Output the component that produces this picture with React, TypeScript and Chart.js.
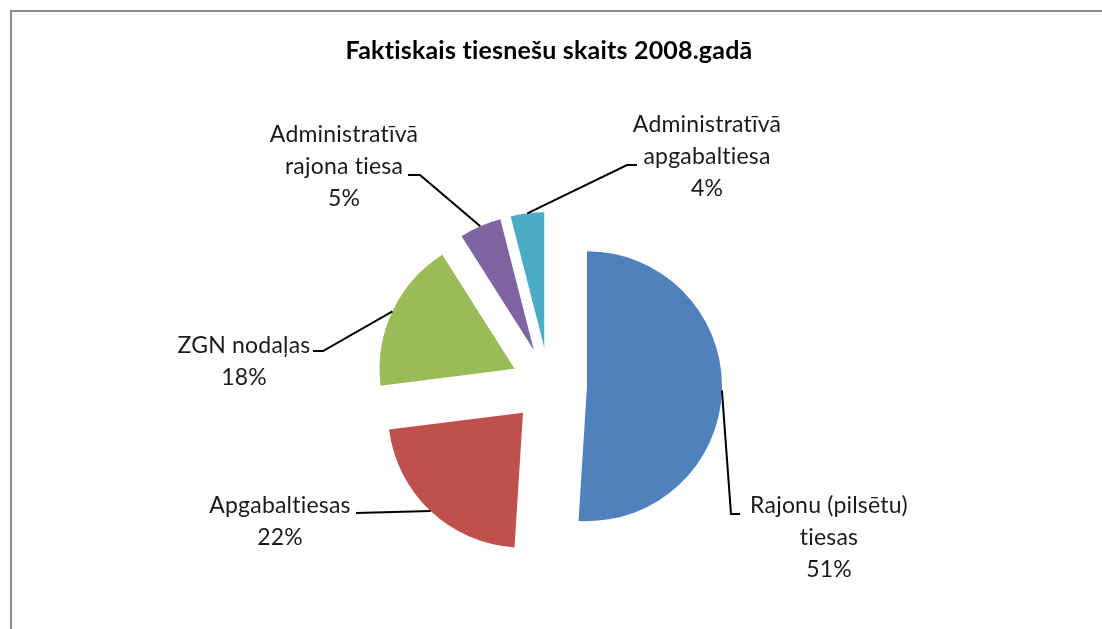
import React, { useEffect, useRef } from "react";
import { Chart, registerables } from "chart.js";

Chart.register(...registerables);

const chartTitle = "Faktiskais tiesnešu skaits 2008.gadā";
const categories: string[][] = [
  ["Rajonu (pilsētu)", "tiesas"],
  ["Apgabaltiesas"],
  ["ZGN nodaļas"],
  ["Administratīvā", "rajona tiesa"],
  ["Administratīvā", "apgabaltiesa"],
];
const values = [51, 22, 18, 5, 4];
const colors = ["#4F81BD", "#C0504D", "#9BBB59", "#8064A2", "#4BACC6"];

// layout of the data labels (text centre x, first baseline y, leader elbow, leader end)
const labelLayout = [
  { x: 829, y: 513, elbow: [731, 514], end: [740, 514] },
  { x: 280, y: 513, elbow: [356, 513], end: [356, 513] },
  { x: 244, y: 353, elbow: [323, 351], end: [313, 351] },
  { x: 344, y: 142, elbow: [420, 175], end: [408, 175] },
  { x: 707, y: 132, elbow: [627, 165], end: [637, 165] },
];
const EXPLODE = 38;
const LABEL_FONT = "23px Lato";
const LINE_GAP = 32;

const explodePlugin = {
  id: "explodedPie",
  beforeDraw(chart: any) {
    // avoid Lato's "ti" ligature
    (chart.ctx as any).letterSpacing = "0.2px";
  },
  beforeDatasetDraw(chart: any, args: any) {
    const ctx = chart.ctx;
    const meta = args.meta;
    meta.data.forEach((el: any) => {
      const mid = (el.startAngle + el.endAngle) / 2;
      ctx.save();
      ctx.translate(Math.cos(mid) * EXPLODE, Math.sin(mid) * EXPLODE);
      el.draw(ctx, chart.chartArea);
      ctx.restore();
    });
    return false;
  },
  afterDatasetsDraw(chart: any) {
    const ctx = chart.ctx;
    const meta = chart.getDatasetMeta(0);
    const data = chart.data.datasets[0].data as number[];
    const total = data.reduce((a, b) => a + b, 0);
    meta.data.forEach((el: any, i: number) => {
      const L = labelLayout[i];
      const mid = (el.startAngle + el.endAngle) / 2;
      const r = el.outerRadius + EXPLODE;
      const ax = el.x + Math.cos(mid) * r;
      const ay = el.y + Math.sin(mid) * r;
      ctx.save();
      ctx.strokeStyle = "#000";
      ctx.lineWidth = 2;
      ctx.beginPath();
      ctx.moveTo(ax, ay);
      ctx.lineTo(L.elbow[0], L.elbow[1]);
      ctx.lineTo(L.end[0], L.end[1]);
      ctx.stroke();
      ctx.font = LABEL_FONT;
      (ctx as any).letterSpacing = "0.2px";
      ctx.fillStyle = "#1a1a1a";
      ctx.textAlign = "center";
      ctx.textBaseline = "alphabetic";
      const lines = [...categories[i], Math.round((data[i] / total) * 100) + "%"];
      lines.forEach((t, k) => ctx.fillText(t, L.x, L.y + k * LINE_GAP));
      ctx.restore();
    });
  },
};

export default function App() {
  const ref = useRef<HTMLCanvasElement>(null);
  useEffect(() => {
    if (!ref.current) return;
    const chart = new Chart(ref.current, {
      type: "pie",
      data: {
        labels: categories.map((c) => c.join(" ")),
        datasets: [
          {
            data: values,
            backgroundColor: colors,
            borderWidth: 0,
          },
        ],
      },
      options: {
        responsive: false,
        animation: false,
        layout: { padding: { top: 0, bottom: 109, left: 200, right: 204 } },
        plugins: {
          legend: { display: false },
          tooltip: { enabled: false },
          title: {
            display: true,
            text: chartTitle,
            color: "#000",
            font: { family: "Lato", size: 25, weight: "bold", lineHeight: 1.2 },
            padding: { top: 36, bottom: 184 },
          },
        },
      },
      plugins: [explodePlugin],
    });
    return () => chart.destroy();
  }, []);
  return (
    <div style={{ position: "absolute", left: 0, top: 0, width: 1102, height: 629, overflow: "hidden", background: "#fff" }}>
      <div
        style={{
          position: "absolute",
          left: 10,
          top: 10,
          width: 1200,
          height: 700,
          borderLeft: "2px solid #8c8c8c",
          borderTop: "2px solid #8c8c8c",
        }}
      />
      <canvas ref={ref} width={1102} height={629} style={{ position: "absolute", left: 0, top: 0 }} />
    </div>
  );
}
